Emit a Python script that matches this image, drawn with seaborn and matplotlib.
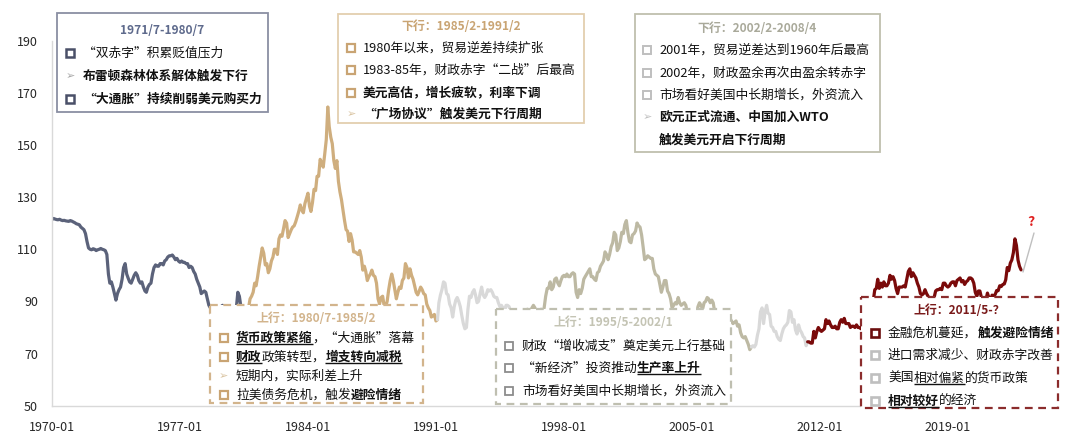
import numpy as np
import pandas as pd
import matplotlib
matplotlib.use('Agg')
import matplotlib.pyplot as plt
import matplotlib.dates as mdates
import seaborn as sns
from matplotlib.patches import Rectangle

sns.set_theme(style='white')
plt.rcParams['font.family'] = ['Noto Sans CJK SC', 'DejaVu Sans']
plt.rcParams['axes.unicode_minus'] = False

# ---------------- data: US dollar index, monthly, 1970-01 .. 2023-01 ----------------
dxy = [
    121.5,121.8,121.6,121.4,121.3,121.5,121.2,121.0,121.1,120.9,120.8,120.7,  # 1970
    121.0,120.8,120.5,120.2,119.8,119.6,119.4,118.5,118.0,117.5,116.0,113.0,  # 1971
    110.5,110.0,109.8,110.2,110.0,109.5,109.8,110.0,110.3,110.0,109.8,109.5,  # 1972
    108.0,100.5,97.0,97.5,95.5,93.0,90.5,93.0,94.5,95.5,98.5,103.0,           # 1973
    104.5,100.5,99.0,97.5,97.0,98.5,100.0,101.0,100.0,98.0,97.0,97.5,         # 1974
    95.5,94.0,93.5,95.5,96.5,97.0,100.5,103.0,104.0,103.5,103.5,104.5,        # 1975
    104.5,104.0,105.5,106.0,107.0,107.5,107.5,107.8,107.0,106.0,106.5,105.5,  # 1976
    105.0,105.5,105.0,105.0,104.5,104.5,103.0,103.5,103.0,101.5,100.5,98.5,   # 1977
    97.0,95.5,93.0,93.5,94.0,93.5,91.0,88.5,87.5,84.0,87.5,87.0,              # 1978
    87.0,87.5,87.5,88.0,88.5,87.0,85.5,86.0,85.0,86.0,86.0,85.0,              # 1979
    85.5,87.5,93.5,92.0,88.0,86.0,85.0,86.5,86.0,87.5,91.0,92.0,              # 1980
    93.5,97.0,96.0,99.5,103.5,107.0,110.5,108.5,104.0,104.5,101.0,102.5,      # 1981
    105.5,107.0,110.0,110.0,108.0,114.0,115.5,115.0,118.0,121.0,120.0,114.5,  # 1982
    116.0,117.5,118.5,119.0,120.5,122.5,124.5,127.0,125.0,124.0,127.5,129.5,  # 1983
    131.5,126.5,124.5,128.0,133.0,132.5,138.0,138.0,144.5,143.0,141.5,146.5,  # 1984
    152.0,164.5,157.0,153.0,150.5,144.0,141.0,144.0,136.0,132.0,129.0,125.0,  # 1985
    121.0,117.5,117.0,113.0,116.0,113.5,109.0,109.0,108.5,108.0,109.5,107.0,  # 1986
    102.0,103.5,101.5,98.0,99.5,100.5,102.0,100.0,99.5,97.0,91.0,89.0,        # 1987
    91.5,92.0,88.5,88.0,90.0,94.5,98.0,100.5,98.0,94.5,91.0,93.5,             # 1988
    95.5,95.0,98.0,99.0,104.5,103.0,99.0,102.5,100.0,98.5,96.0,93.5,          # 1989
    92.5,94.0,95.5,94.5,93.0,92.5,89.0,87.5,86.5,84.0,84.5,85.0,              # 1990
    82.5,83.0,89.5,92.5,94.5,97.5,97.0,93.0,92.5,89.0,87.5,84.0,              # 1991
    88.0,90.5,91.5,90.0,88.0,84.5,81.5,79.5,80.0,87.0,92.0,91.5,              # 1992
    93.5,94.5,92.5,89.5,90.0,93.0,95.5,92.5,91.5,92.5,94.5,94.0,              # 1993
    94.5,93.5,92.0,91.5,91.5,89.5,88.0,88.5,87.5,86.0,88.5,88.5,              # 1994
    88.0,86.0,82.5,81.5,82.5,82.5,82.5,86.0,85.5,84.0,84.5,84.5,              # 1995
    87.0,86.5,86.0,87.5,88.5,87.5,85.5,86.0,86.5,87.0,86.0,87.5,              # 1996
    92.0,95.0,95.0,97.5,94.5,95.5,98.5,99.0,97.0,96.0,98.0,99.5,              # 1997
    100.0,99.5,100.5,99.5,99.5,100.5,101.0,100.5,93.5,91.5,94.5,93.0,         # 1998
    95.0,98.5,99.5,100.5,101.5,102.5,99.5,99.5,98.5,98.0,101.0,101.5,         # 1999
    103.5,104.5,105.5,109.0,108.0,106.0,108.0,111.0,112.5,116.5,115.5,109.5,  # 2000
    110.5,113.0,116.5,116.0,119.5,121.0,116.5,113.0,112.5,115.5,116.0,117.0,  # 2001
    120.0,119.0,118.5,115.5,111.0,106.0,106.5,107.5,107.0,106.5,106.5,102.5,  # 2002
    100.5,100.0,99.5,96.5,93.5,95.5,98.0,98.0,94.0,93.0,91.0,87.5,            # 2003
    88.5,89.5,89.0,91.5,89.5,88.5,89.0,89.5,88.5,85.5,82.5,81.0,              # 2004
    84.0,83.0,84.5,84.5,88.0,89.5,88.5,87.0,89.5,90.0,91.5,91.0,              # 2005
    89.5,90.5,89.5,86.0,85.0,85.0,85.0,85.0,86.0,85.5,83.0,83.5,              # 2006
    84.5,83.5,82.5,81.5,82.0,82.5,80.5,81.0,78.0,76.5,76.0,76.5,              # 2007
    75.0,73.5,71.5,72.5,73.0,72.5,73.5,77.0,79.5,86.0,87.5,81.5,              # 2008
    86.0,88.5,85.5,85.0,80.5,80.0,78.5,78.5,76.5,75.5,75.0,77.5,              # 2009
    79.5,80.5,81.0,82.0,86.5,86.0,82.0,83.0,79.0,77.5,81.0,79.0,              # 2010
    78.0,76.5,76.0,73.0,74.5,74.5,74.0,74.0,78.5,76.0,78.5,80.0,              # 2011
    79.0,78.5,79.0,79.5,83.0,81.5,82.5,81.0,80.0,80.0,80.5,79.5,              # 2012
    79.5,82.0,83.0,82.0,83.5,81.5,81.5,81.5,80.0,80.5,80.5,80.0,              # 2013
    81.0,80.0,80.0,79.5,80.5,80.0,81.5,83.0,86.0,86.5,88.5,90.0,              # 2014
    94.5,95.0,98.5,95.0,97.0,95.5,97.5,96.0,96.0,97.0,100.0,98.5,             # 2015
    99.5,98.0,95.0,93.0,95.5,95.5,95.5,96.0,95.5,98.5,101.5,102.5,            # 2016
    99.5,101.0,100.0,99.0,97.0,95.5,93.0,92.5,93.0,94.5,93.0,92.0,            # 2017
    89.0,90.5,89.5,91.5,94.0,94.5,94.5,95.0,94.5,97.0,97.0,96.0,              # 2018
    95.5,96.0,97.0,97.5,97.5,96.0,98.0,98.5,99.0,97.5,98.0,96.5,              # 2019
    97.5,98.0,99.0,99.0,98.5,97.0,93.5,92.0,94.0,94.0,91.5,89.9,              # 2020
    90.5,90.9,93.2,91.3,90.0,92.4,92.2,92.6,94.2,94.1,96.0,95.7,              # 2021
    96.5,96.7,98.3,103.0,101.8,104.7,105.9,108.7,114.0,111.5,105.9,103.5,     # 2022
    102.1,                                                                    # 2023
]
phase_starts = ['1970-01', '1980-07', '1985-02', '1991-02', '1995-05', '2002-01', '2008-04', '2011-05']
phase_ends   = ['1980-07', '1985-02', '1991-02', '1995-05', '2002-01', '2008-04', '2011-05', '2023-01']
phase_colors = ['#5B627A', '#CFAE7E', '#CFAE7E', '#D9D9D9', '#BDB9A3', '#BDB9A3', '#D9D9D9', '#7A0A0A']
x_tick_labels = ['1970-01', '1977-01', '1984-01', '1991-01', '1998-01', '2005-01', '2012-01', '2019-01']
y_ticks = [50, 70, 90, 110, 130, 150, 170, 190]

dates = pd.date_range('1970-01-01', periods=len(dxy), freq='MS')
series = pd.Series(dxy, index=dates)
frames = []
for i, (s, e) in enumerate(zip(phase_starts, phase_ends)):
    seg = series.loc[pd.Timestamp(s + '-01'):pd.Timestamp(e + '-01')]
    frames.append(pd.DataFrame({'date': seg.index, 'value': seg.values, 'phase': f'p{i}'}))
df = pd.concat(frames, ignore_index=True)
palette = {f'p{i}': c for i, c in enumerate(phase_colors)}

# ---------------- figure ----------------
W, H = 1080, 438
fig = plt.figure(figsize=(W / 100, H / 100), dpi=100)
fig.patch.set_facecolor('white')
ax = fig.add_axes([52 / W, 32.3 / H, (1050 - 52) / W, 365 / H])
sns.lineplot(data=df, x='date', y='value', hue='phase', palette=palette, legend=False,
             linewidth=2.3, estimator=None, sort=False, ax=ax)

x0 = mdates.date2num(pd.Timestamp('1970-01-01'))
x7 = mdates.date2num(pd.Timestamp('1977-01-01'))
per_px = (x7 - x0) / 128.0
ax.set_xlim(x0, x0 + per_px * (1050 - 52))
ax.set_ylim(50, 190)
ax.set_xticks([mdates.date2num(pd.Timestamp(t + '-01')) for t in x_tick_labels])
ax.set_xticklabels(x_tick_labels)
ax.set_yticks(y_ticks)
ax.set_yticklabels([str(v) for v in y_ticks])
ax.set_xlabel('')
ax.set_ylabel('')
for sp in ['top', 'right']:
    ax.spines[sp].set_visible(False)
for sp in ['left', 'bottom']:
    ax.spines[sp].set_color('#D9D9D9')
    ax.spines[sp].set_linewidth(1.0)
ax.tick_params(axis='both', which='major', length=4, width=1, color='#D9D9D9',
               labelsize=9, labelcolor='#262626', direction='out')
ax.tick_params(axis='y', pad=6)
ax.tick_params(axis='x', pad=7)
ax.grid(False)
ax.set_facecolor('white')

# ---------------- overlay in pixel coords ----------------
ov = fig.add_axes([0, 0, 1, 1], zorder=10)
ov.set_xlim(0, W)
ov.set_ylim(H, 0)
ov.set_axis_off()

fig.canvas.draw()
renderer = fig.canvas.get_renderer()

FS = 9.2
TFS = 8.6
TXT = '#111111'


def box(x0_, y0_, x1_, y1_, ec, dashed=False, lw=1.3):
    r = Rectangle((x0_, y0_), x1_ - x0_, y1_ - y0_, facecolor='white', edgecolor=ec,
                  linewidth=lw, linestyle=(0, (3.5, 2.5)) if dashed else '-', zorder=2)
    ov.add_patch(r)


def title(cx, y, txt, color):
    ov.text(cx, y, txt, fontsize=TFS, fontweight='bold', color=color, ha='center', va='center', zorder=5)


def square(cx, cy, color, lw=1.6):
    ov.add_patch(Rectangle((cx - 4, cy - 4), 8, 8, facecolor='white', edgecolor=color, linewidth=lw, zorder=5))


def arrow(cx, cy, color='#A6A6A6'):
    ov.text(cx, cy, '\u27a2', fontsize=8, color=color, ha='center', va='center',
            family=['DejaVu Sans'], zorder=5)


def runs(x, y, parts):
    for part in parts:
        txt, bold, ul = part
        t = ov.text(x, y, txt, fontsize=FS, fontweight='bold' if bold else 'normal',
                    color=TXT, ha='left', va='center', zorder=5)
        bb = t.get_window_extent(renderer)
        if ul:
            yb = H - bb.y0 - 0.5
            ov.plot([bb.x0, bb.x1], [yb, yb], color=TXT, lw=1.0, zorder=5, solid_capstyle='butt')
        x = bb.x1


N, B = False, True

# Box 1
box(57, 13, 268, 112, '#8A8FA3')
title(162.5, 30, '1971/7-1980/7', '#5E6A8C')
square(70, 53, '#4A5068', 1.8)
runs(83, 53, [('\u201c双赤字\u201d积累贬值压力', N, N)])
arrow(70, 76)
runs(83, 76, [('布雷顿森林体系解体触发下行', B, N)])
square(70, 99, '#4A5068', 1.8)
runs(83, 99, [('\u201c大通胀\u201d持续削弱美元购买力', B, N)])

# Box 2
box(338, 14, 584, 123, '#E3CFAF')
title(461, 27, '下行：1985/2-1991/2', '#C9A473')
square(351, 48, '#C9A473')
runs(363, 48, [('1980年以来，贸易逆差持续扩张', N, N)])
square(351, 70, '#C9A473')
runs(363, 70, [('1983-85年，财政赤字\u201c二战\u201d后最高', N, N)])
square(351, 93, '#C9A473')
runs(363, 93, [('美元高估，增长疲软，利率下调', B, N)])
arrow(351, 114, '#D9C3A0')
runs(363, 114, [('\u201c广场协议\u201d触发美元下行周期', B, N)])

# Box 3
box(635, 14, 880, 152, '#BFBFAE')
title(757.5, 28, '下行：2002/2-2008/4', '#A9A99A')
square(647, 50, '#BFBFBF', 1.4)
runs(659, 50, [('2001年，贸易逆差达到1960年后最高', N, N)])
square(647, 73, '#BFBFBF', 1.4)
runs(659, 73, [('2002年，财政盈余再次由盈余转赤字', N, N)])
square(647, 95, '#BFBFBF', 1.4)
runs(659, 95, [('市场看好美国中长期增长，外资流入', N, N)])
arrow(647, 117, '#BFBFBF')
runs(659, 117, [('欧元正式流通、中国加入WTO', B, N)])
runs(659, 140, [('触发美元开启下行周期', B, N)])

# Box 4
box(210, 305, 423, 403, '#D2B48C', dashed=True, lw=1.6)
title(316.5, 318, '上行：1980/7-1985/2', '#D2B48C')
square(223.5, 338, '#C9A473')
runs(236, 338, [('货币政策紧缩', B, B), ('，\u201c大通胀\u201d落幕', N, N)])
square(223.5, 357, '#C9A473')
runs(236, 357, [('财政', B, B), ('政策转型，', N, N), ('增支转向减税', B, B)])
arrow(223.5, 376, '#D9C3A0')
runs(236, 376, [('短期内，实际利差上升', N, N)])
square(223.5, 395, '#C9A473')
runs(236, 395, [('拉美债务危机，触发', N, N), ('避险情绪', B, N)])

# Box 5
box(496, 309, 731, 404, '#BFBFB0', dashed=True, lw=1.6)
title(613.5, 323, '上行：1995/5-2002/1', '#C4C4B4')
square(508.5, 346, '#8C8C8C', 1.3)
runs(522, 346, [('财政\u201c增收减支\u201d奠定美元上行基础', N, N)])
square(508.5, 368, '#8C8C8C', 1.3)
runs(522, 368, [('\u201c新经济\u201d投资推动', N, N), ('生产率上升', B, B)])
square(508.5, 391, '#8C8C8C', 1.3)
runs(522, 391, [('市场看好美国中长期增长，外资流入', N, N)])

# Box 6
box(861, 297, 1058, 408, '#8B2C2C', dashed=True, lw=1.6)
title(959.5, 310, '上行：2011/5-？', '#7A1A1A')
square(875, 333, '#6B0F0F', 1.9)
runs(888, 333, [('金融危机蔓延，', N, N), ('触发避险情绪', B, N)])
square(875, 355, '#BFBFBF', 1.9)
runs(888, 355, [('进口需求减少、财政赤字改善', N, N)])
square(875, 378, '#BFBFBF', 1.9)
runs(888, 378, [('美国', N, N), ('相对偏紧', N, B), ('的货币政策', N, N)])
square(875, 401, '#BFBFBF', 1.9)
runs(888, 401, [('相对较好', B, B), ('的经济', N, N)])

# question mark annotation
ov.plot([1023, 1034], [272, 233], color='#BFBFBF', lw=1.0, zorder=5)
ov.text(1031, 222, '?', fontsize=10, fontweight='bold', color='#E02020', ha='center', va='center',
        zorder=5)

fig.savefig('out.png', dpi=100, facecolor='white')
